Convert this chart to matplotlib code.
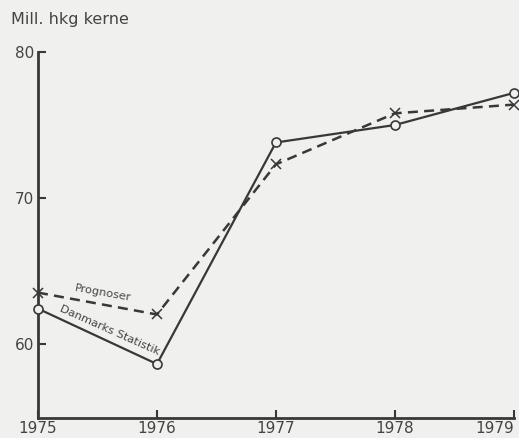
import matplotlib
matplotlib.use("Agg")
import matplotlib.pyplot as plt

years = [1975, 1976, 1977, 1978, 1979]
danmarks_statistik = [62.4, 58.6, 73.8, 75.0, 77.2]
prognoser = [63.5, 62.0, 72.3, 75.8, 76.4]
yticks = [60, 70, 80]

bg = "#f0f0ee"
ink = "#383838"

fig = plt.figure(figsize=(5.19, 4.38), dpi=100, facecolor=bg)
ax = fig.add_axes([0.0732, 0.0457, 0.9168, 0.8353], facecolor=bg)

ax.plot(years, danmarks_statistik, color=ink, lw=1.6, marker="o", ms=6.5,
        mfc=bg, mec=ink, mew=1.2, clip_on=False, zorder=3)
ax.plot(years, prognoser, color=ink, lw=1.8, ls=(0, (4, 2.5)), marker="x",
        ms=7.5, mec=ink, mew=1.1, clip_on=False, zorder=2)

ax.set_xlim(1975, 1979)
ax.set_ylim(54.9, 80)
ax.set_xticks(years)
ax.set_yticks(yticks)
ax.tick_params(direction="in", length=6, width=1.5, colors=ink,
               labelsize=11, labelcolor="#444444", pad=2)
ax.tick_params(axis="y", pad=3)
for s in ["top", "right"]:
    ax.spines[s].set_visible(False)
for s in ["left", "bottom"]:
    ax.spines[s].set_linewidth(2)
    ax.spines[s].set_color(ink)
for lab in ax.get_xticklabels():
    lab.set_ha("center")
ax.get_xticklabels()[-1].set_ha("right")

fig.text(0.022, 0.955, "Mill. hkg kerne", fontsize=11.5, color="#444444",
         ha="left", va="center")

ax.text(1975.55, 63.45, "Prognoser", rotation=-10, fontsize=8.2,
        color="#444444", ha="center", va="center")
ax.text(1975.6, 60.95, "Danmarks Statistik", rotation=-24, fontsize=8.2,
        color="#444444", ha="center", va="center")

fig.savefig("out.png", dpi=100, facecolor=bg)
